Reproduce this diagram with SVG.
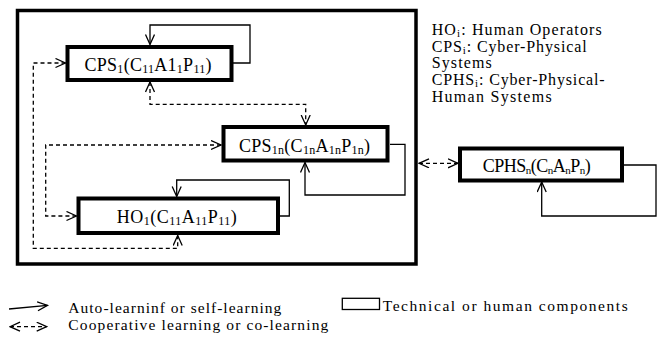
<svg xmlns="http://www.w3.org/2000/svg" width="666" height="344" viewBox="0 0 666 344">
  <defs>
    <style>
      .frame { fill: none; stroke: #000; stroke-width: 3.5; }
      .box { fill: #fff; stroke: #000; stroke-width: 4; }
      .solid { fill: none; stroke: #000; stroke-width: 1.3; }
      .dash { fill: none; stroke: #000; stroke-width: 1.3; stroke-dasharray: 4 3; }
      .lbl { font-family: "Liberation Serif", "Times New Roman", serif; font-size: 18px; fill: #000; text-anchor: middle; }
      .note { font-family: "Liberation Serif", "Times New Roman", serif; font-size: 16px; fill: #000; }
      .leg { font-family: "Liberation Serif", "Times New Roman", serif; font-size: 15.5px; fill: #000; }
      .sub { font-size: 12px; }
      .nsub { font-size: 11px; }
    </style>
    <marker id="arr" markerUnits="userSpaceOnUse" markerWidth="12" markerHeight="12" viewBox="0 0 12 12" refX="10.5" refY="5" orient="auto-start-reverse">
      <path d="M0.5,0.5 L10.5,5 L0.5,9.5" fill="none" stroke="#000" stroke-width="1.3"/>
    </marker>
  </defs>

  <!-- outer system frame -->
  <rect class="frame" x="17.5" y="10.5" width="398.5" height="253.5"/>

  <!-- connectors -->
  <g id="connectors">
    <!-- self-learning loops -->
    <path class="solid" d="M233,63 H250 V25 H150 V44.5" marker-end="url(#arr)"/>
    <path class="solid" d="M390,144.3 H405 V195 H305 V162.5" marker-end="url(#arr)"/>
    <path class="solid" d="M280,216 H289.3 V180 H176.7 V196.5" marker-end="url(#arr)"/>
    <path class="solid" d="M624,165 H656 V216 H541.7 V182" marker-end="url(#arr)"/>
    <!-- co-learning links -->
    <path class="dash" d="M150,82 V104.3 H305.7 V125" marker-start="url(#arr)" marker-end="url(#arr)"/>
    <path class="dash" d="M65.5,63 H33.3 V248.3 H177.7 V235.5" marker-start="url(#arr)" marker-end="url(#arr)"/>
    <path class="dash" d="M221,145 H45.7 V216 H76.5" marker-start="url(#arr)" marker-end="url(#arr)"/>
    <path class="dash" d="M419,163.3 H458" marker-start="url(#arr)" marker-end="url(#arr)"/>
  </g>

  <!-- nodes -->
  <g id="cps1">
    <rect class="box" x="67.5" y="47" width="164" height="33"/>
    <text class="lbl" x="148" y="71" textLength="127" lengthAdjust="spacing">CPS<tspan class="sub" dy="2">1</tspan><tspan dy="-2">(C</tspan><tspan class="sub" dy="2">11</tspan><tspan dy="-2">A1</tspan><tspan class="sub" dy="2">1</tspan><tspan dy="-2">P</tspan><tspan class="sub" dy="2">11</tspan><tspan dy="-2">)</tspan></text>
  </g>

  <g id="cps1n">
    <rect class="box" x="223.5" y="127" width="164" height="33.5"/>
    <text class="lbl" x="304.5" y="151.7" textLength="131" lengthAdjust="spacing">CPS<tspan class="sub" dy="2">1n</tspan><tspan dy="-2">(C</tspan><tspan class="sub" dy="2">1n</tspan><tspan dy="-2">A</tspan><tspan class="sub" dy="2">1n</tspan><tspan dy="-2">P</tspan><tspan class="sub" dy="2">1n</tspan><tspan dy="-2">)</tspan></text>
  </g>

  <g id="ho1">
    <rect class="box" x="78.5" y="198.5" width="199.5" height="34.5"/>
    <text class="lbl" x="176.7" y="223.3" textLength="120" lengthAdjust="spacing">HO<tspan class="sub" dy="2">1</tspan><tspan dy="-2">(C</tspan><tspan class="sub" dy="2">11</tspan><tspan dy="-2">A</tspan><tspan class="sub" dy="2">11</tspan><tspan dy="-2">P</tspan><tspan class="sub" dy="2">11</tspan><tspan dy="-2">)</tspan></text>
  </g>

  <g id="cphsn">
    <rect class="box" x="460" y="148.5" width="162" height="32"/>
    <text class="lbl" x="536.8" y="171.7" textLength="108" lengthAdjust="spacing">CPHS<tspan class="nsub" dy="2">n</tspan><tspan dy="-2">(C</tspan><tspan class="nsub" dy="2">n</tspan><tspan dy="-2">A</tspan><tspan class="nsub" dy="2">n</tspan><tspan dy="-2">P</tspan><tspan class="nsub" dy="2">n</tspan><tspan dy="-2">)</tspan></text>
  </g>

  <!-- abbreviation notes -->
  <g id="abbreviations">
    <text class="note" x="431.7" y="35" textLength="170" lengthAdjust="spacing">HO<tspan class="nsub" dy="2">i</tspan><tspan dy="-2">: Human Operators</tspan></text>
    <text class="note" x="431.7" y="51.7" textLength="155" lengthAdjust="spacing">CPS<tspan class="nsub" dy="2">i</tspan><tspan dy="-2">: Cyber-Physical</tspan></text>
    <text class="note" x="431.7" y="68.3" textLength="60" lengthAdjust="spacing">Systems</text>
    <text class="note" x="431.7" y="85" textLength="173" lengthAdjust="spacing">CPHS<tspan class="nsub" dy="2">i</tspan><tspan dy="-2">: Cyber-Physical-</tspan></text>
    <text class="note" x="431.7" y="101.7" textLength="120" lengthAdjust="spacing">Human Systems</text>
  </g>

  <!-- legend -->
  <g id="legend">
    <path class="solid" d="M9,309 L47.5,305.3" marker-end="url(#arr)"/>
    <text class="leg" x="68.3" y="313" textLength="213" lengthAdjust="spacing">Auto-learninf or self-learning</text>
    <path class="dash" d="M10,326.7 H46.7" marker-start="url(#arr)" marker-end="url(#arr)"/>
    <text class="leg" x="68.3" y="329.6" textLength="260" lengthAdjust="spacing">Cooperative learning or co-learning</text>
    <rect class="solid" x="342.3" y="298.3" width="37.2" height="11.2"/>
    <text class="leg" x="382.7" y="311" textLength="245" lengthAdjust="spacing">Technical or human components</text>
  </g>
</svg>
